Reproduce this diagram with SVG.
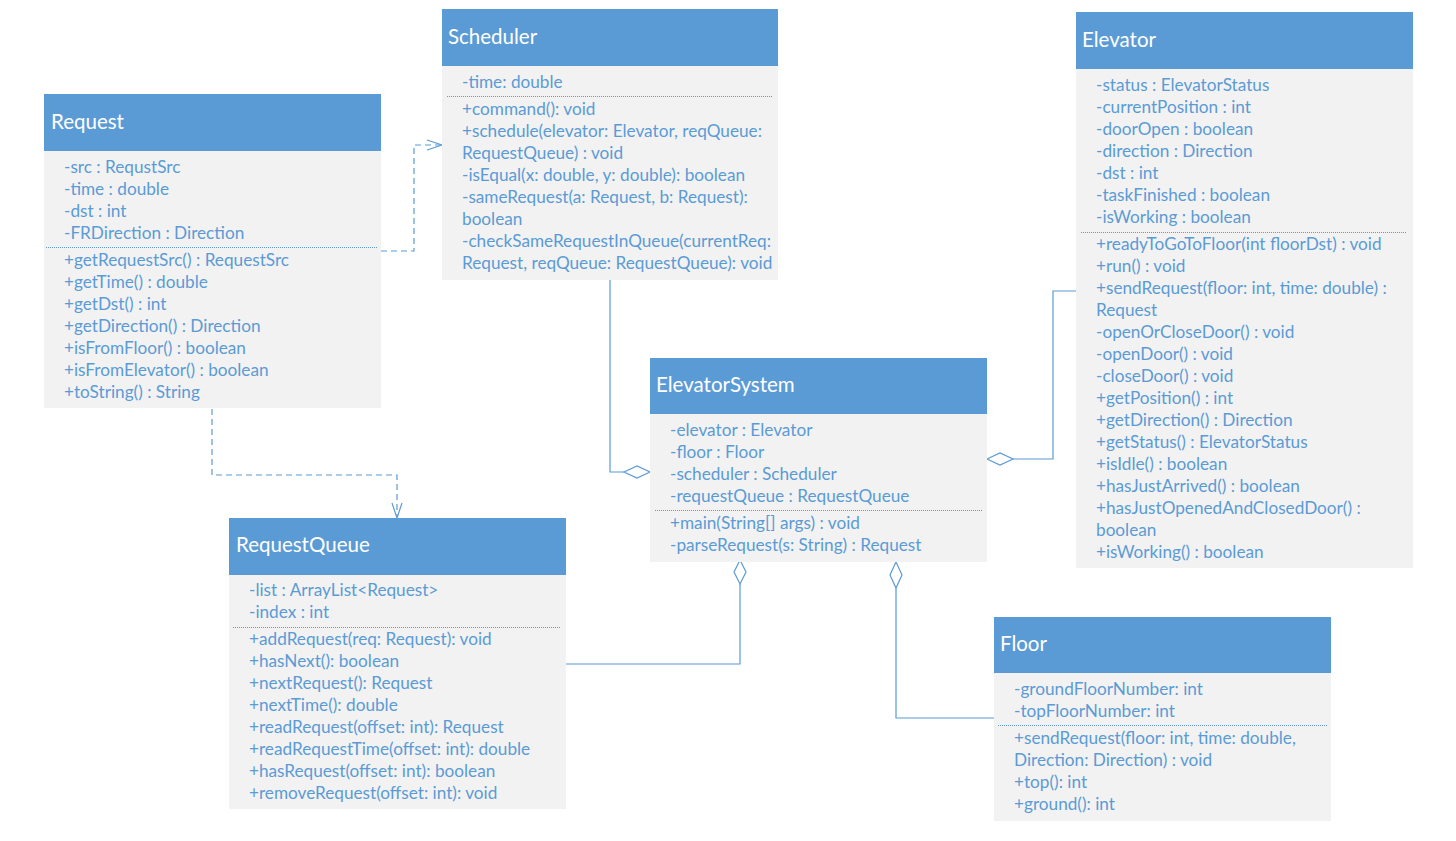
<svg xmlns="http://www.w3.org/2000/svg" width="1456" height="841" viewBox="0 0 1456 841">
<style>
.hd{fill:#5B9BD5}
.bd{fill:#F2F2F2}
.tt{font-family:Lato,"Open Sans","Liberation Sans",sans-serif;font-size:20.5px;fill:#FFFFFF}
.tx{font-family:Lato,"Open Sans","Liberation Sans",sans-serif;font-size:17.2px;fill:#5B9BD5}
.sep{stroke:#5B9BD5;stroke-width:1;stroke-dasharray:1 1;fill:none}
.ln{stroke:#5B9BD5;stroke-width:1.2;fill:none}
.dash{stroke:#5B9BD5;stroke-width:1.2;fill:none;stroke-dasharray:6 4}
.dia{stroke:#5B9BD5;stroke-width:1.2;fill:#FFFFFF}
</style>
<rect width="1456" height="841" fill="#FFFFFF"/>
<g id="connectors">
<polyline class="dash" points="381,251 414,251 414,145 441,145"/>
<polyline class="ln" points="427,140 442,145 427,150"/>
<polyline class="dash" points="212,409 212,475 397,475 397,517"/>
<polyline class="ln" points="392,503 397,518 402,503"/>
<polyline class="ln" points="610,280 610,472 624,472"/>
<polygon class="dia" points="624,472 637,466 650,472 637,478"/>
<polyline class="ln" points="1076,291 1053,291 1053,459 1013,459"/>
<polygon class="dia" points="987,459 1000,453 1013,459 1000,465"/>
<polyline class="ln" points="566,664 740,664 740,584"/>
<polygon class="dia" points="740,560 746,572 740,584 734,572"/>
<polyline class="ln" points="994,718 896,718 896,588"/>
<polygon class="dia" points="896,562 902,575 896,588 890,575"/>
</g>
<g id="Request">
<rect class="hd" x="44" y="94" width="337" height="57"/>
<rect class="bd" x="44" y="151" width="337" height="257"/>
<text class="tt" x="51" y="129">Request</text>
<line class="sep" x1="46" y1="247.5" x2="377" y2="247.5"/>
<text class="tx" x="64" y="173">-src : RequstSrc</text>
<text class="tx" x="64" y="195">-time : double</text>
<text class="tx" x="64" y="217">-dst : int</text>
<text class="tx" x="64" y="239">-FRDirection : Direction</text>
<text class="tx" x="64" y="266">+getRequestSrc() : RequestSrc</text>
<text class="tx" x="64" y="288">+getTime() : double</text>
<text class="tx" x="64" y="310">+getDst() : int</text>
<text class="tx" x="64" y="332">+getDirection() : Direction</text>
<text class="tx" x="64" y="354">+isFromFloor() : boolean</text>
<text class="tx" x="64" y="376">+isFromElevator() : boolean</text>
<text class="tx" x="64" y="398">+toString() : String</text>
</g>
<g id="Scheduler">
<rect class="hd" x="442" y="9" width="336" height="57"/>
<rect class="bd" x="442" y="66" width="336" height="214"/>
<text class="tt" x="448" y="44">Scheduler</text>
<line class="sep" x1="447" y1="96.5" x2="773" y2="96.5"/>
<text class="tx" x="462" y="88">-time: double</text>
<text class="tx" x="462" y="115">+command(): void</text>
<text class="tx" x="462" y="137">+schedule(elevator: Elevator, reqQueue:</text>
<text class="tx" x="462" y="159">RequestQueue) : void</text>
<text class="tx" x="462" y="181">-isEqual(x: double, y: double): boolean</text>
<text class="tx" x="462" y="203">-sameRequest(a: Request, b: Request):</text>
<text class="tx" x="462" y="225">boolean</text>
<text class="tx" x="462" y="247">-checkSameRequestInQueue(currentReq:</text>
<text class="tx" x="462" y="269">Request, reqQueue: RequestQueue): void</text>
</g>
<g id="Elevator">
<rect class="hd" x="1076" y="12" width="337" height="57"/>
<rect class="bd" x="1076" y="69" width="337" height="499"/>
<text class="tt" x="1082" y="47">Elevator</text>
<line class="sep" x1="1081" y1="232.5" x2="1407" y2="232.5"/>
<text class="tx" x="1096" y="91">-status : ElevatorStatus</text>
<text class="tx" x="1096" y="113">-currentPosition : int</text>
<text class="tx" x="1096" y="135">-doorOpen : boolean</text>
<text class="tx" x="1096" y="157">-direction : Direction</text>
<text class="tx" x="1096" y="179">-dst : int</text>
<text class="tx" x="1096" y="201">-taskFinished : boolean</text>
<text class="tx" x="1096" y="223">-isWorking : boolean</text>
<text class="tx" x="1096" y="250">+readyToGoToFloor(int floorDst) : void</text>
<text class="tx" x="1096" y="272">+run() : void</text>
<text class="tx" x="1096" y="294">+sendRequest(floor: int, time: double) :</text>
<text class="tx" x="1096" y="316">Request</text>
<text class="tx" x="1096" y="338">-openOrCloseDoor() : void</text>
<text class="tx" x="1096" y="360">-openDoor() : void</text>
<text class="tx" x="1096" y="382">-closeDoor() : void</text>
<text class="tx" x="1096" y="404">+getPosition() : int</text>
<text class="tx" x="1096" y="426">+getDirection() : Direction</text>
<text class="tx" x="1096" y="448">+getStatus() : ElevatorStatus</text>
<text class="tx" x="1096" y="470">+isIdle() : boolean</text>
<text class="tx" x="1096" y="492">+hasJustArrived() : boolean</text>
<text class="tx" x="1096" y="514">+hasJustOpenedAndClosedDoor() :</text>
<text class="tx" x="1096" y="536">boolean</text>
<text class="tx" x="1096" y="558">+isWorking() : boolean</text>
</g>
<g id="ElevatorSystem">
<rect class="hd" x="650" y="358" width="337" height="56"/>
<rect class="bd" x="650" y="414" width="337" height="148"/>
<text class="tt" x="656" y="392">ElevatorSystem</text>
<line class="sep" x1="655" y1="510.5" x2="983" y2="510.5"/>
<text class="tx" x="670" y="436">-elevator : Elevator</text>
<text class="tx" x="670" y="458">-floor : Floor</text>
<text class="tx" x="670" y="480">-scheduler : Scheduler</text>
<text class="tx" x="670" y="502">-requestQueue : RequestQueue</text>
<text class="tx" x="670" y="529">+main(String[] args) : void</text>
<text class="tx" x="670" y="551">-parseRequest(s: String) : Request</text>
</g>
<g id="RequestQueue">
<rect class="hd" x="229" y="518" width="337" height="57"/>
<rect class="bd" x="229" y="575" width="337" height="234"/>
<text class="tt" x="236" y="552">RequestQueue</text>
<line class="sep" x1="233" y1="627.5" x2="561" y2="627.5"/>
<text class="tx" x="249" y="596">-list : ArrayList&lt;Request&gt;</text>
<text class="tx" x="249" y="618">-index : int</text>
<text class="tx" x="249" y="645">+addRequest(req: Request): void</text>
<text class="tx" x="249" y="667">+hasNext(): boolean</text>
<text class="tx" x="249" y="689">+nextRequest(): Request</text>
<text class="tx" x="249" y="711">+nextTime(): double</text>
<text class="tx" x="249" y="733">+readRequest(offset: int): Request</text>
<text class="tx" x="249" y="755">+readRequestTime(offset: int): double</text>
<text class="tx" x="249" y="777">+hasRequest(offset: int): boolean</text>
<text class="tx" x="249" y="799">+removeRequest(offset: int): void</text>
</g>
<g id="Floor">
<rect class="hd" x="994" y="617" width="337" height="56"/>
<rect class="bd" x="994" y="673" width="337" height="148"/>
<text class="tt" x="1000" y="651">Floor</text>
<line class="sep" x1="998" y1="725.5" x2="1327" y2="725.5"/>
<text class="tx" x="1014" y="695">-groundFloorNumber: int</text>
<text class="tx" x="1014" y="717">-topFloorNumber: int</text>
<text class="tx" x="1014" y="744">+sendRequest(floor: int, time: double,</text>
<text class="tx" x="1014" y="766">Direction: Direction) : void</text>
<text class="tx" x="1014" y="788">+top(): int</text>
<text class="tx" x="1014" y="810">+ground(): int</text>
</g>
</svg>
